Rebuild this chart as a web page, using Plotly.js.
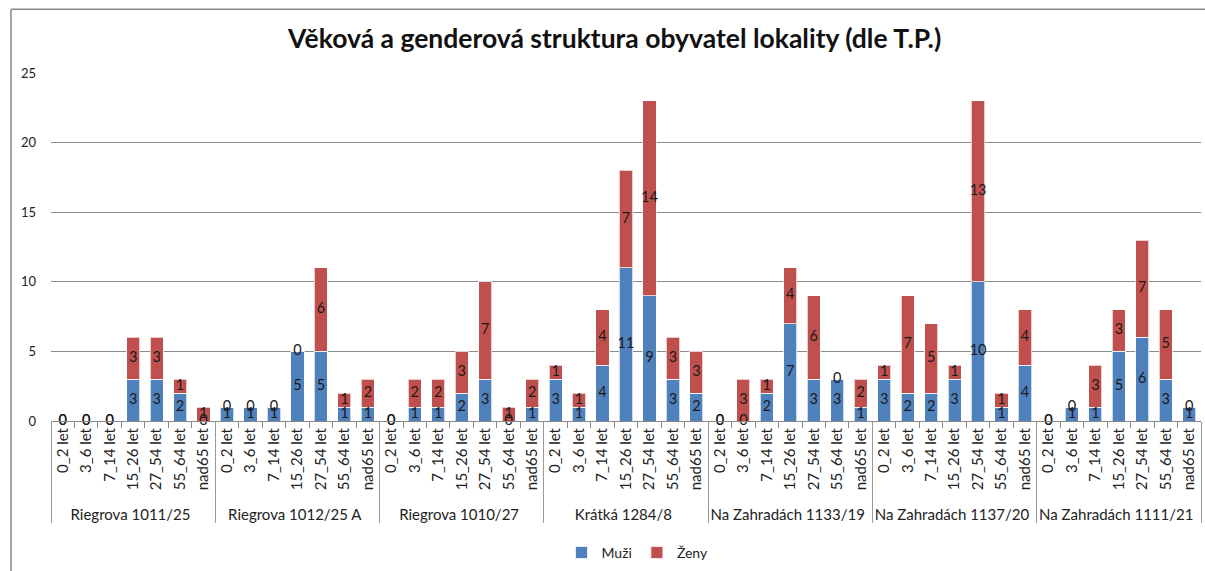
<!DOCTYPE html>
<html>
<head>
<meta charset="utf-8">
<script src="https://cdn.plot.ly/plotly-3.0.1.min.js"></script>
<style>html,body{margin:0;padding:0;background:#fff;}#chart{width:1205px;height:571px;}</style>
</head>
<body>
<div id="chart"></div>
<script>
const groups = ["Riegrova 1011/25","Riegrova 1012/25 A","Riegrova 1010/27","Krátká 1284/8","Na Zahradách 1133/19","Na Zahradách 1137/20","Na Zahradách 1111/21"];
const ages = ["0_2 let","3_6 let","7_14 let","15_26 let","27_54 let","55_64 let","nad65 let"];
const muzi = [
  [0,0,0,3,3,2,0],
  [1,1,1,5,5,1,1],
  [0,1,1,2,3,0,1],
  [3,1,4,11,9,3,2],
  [0,0,2,7,3,3,1],
  [3,2,2,3,10,1,4],
  [0,1,1,5,6,3,1]
];
const zeny = [
  [0,0,0,3,3,1,1],
  [0,0,0,0,6,1,2],
  [0,2,2,3,7,1,2],
  [1,1,4,7,14,3,3],
  [0,3,1,4,6,0,2],
  [1,7,5,1,13,1,4],
  [0,0,3,3,7,5,0]
];
const yTicks = [0,5,10,15,20,25];

const xOuter = [], xInner = [], m = [], z = [];
groups.forEach((g,i)=>ages.forEach((a,j)=>{xOuter.push(g);xInner.push(a);m.push(muzi[i][j]);z.push(zeny[i][j]);}));
const X = [xOuter, xInner];
const blue = "#4F81BD", red = "#C0504D";
const lblFont = {family:"Lato, 'Open Sans', sans-serif", size:14.5, color:"#1a1a1a"};

const data = [
  {type:"bar", name:"Muži", x:X, y:m, marker:{color:blue, line:{color:"rgba(255,255,255,0.7)", width:1}}, hoverinfo:"y"},
  {type:"bar", name:"Ženy", x:X, y:z, marker:{color:red, line:{color:"rgba(255,255,255,0.7)", width:1}}, hoverinfo:"y"},
  {type:"scatter", mode:"text", x:X, y:m.map(v=>v/2), text:m.map(String), textfont:lblFont, showlegend:false, hoverinfo:"skip", cliponaxis:false},
  {type:"scatter", mode:"text", x:X, y:m.map((v,i)=>v+z[i]/2), text:z.map(String), textfont:lblFont, showlegend:false, hoverinfo:"skip", cliponaxis:false}
];

const pl = 51, pr = 1201, pt = 73, pb = 422;
const W = 1205, H = 571;
const nCat = groups.length * ages.length;
const layout = {
  width: W, height: H,
  margin: {l: pl, r: W-pr, t: pt, b: H-pb, pad:0},
  paper_bgcolor:"#fff", plot_bgcolor:"#fff",
  barmode:"stack", bargap:0.44,
  font:{family:"Lato, 'Open Sans', sans-serif", size:12, color:"#222"},
  title:{text:"<b>Věková a genderová struktura obyvatel lokality (dle T.P.)</b>", x:0.51, xanchor:"center", y:0.932, yanchor:"middle", font:{family:"Lato, sans-serif", size:26.5, color:"#111"}},
  xaxis:{type:"multicategory", range:[-0.5, nCat-0.5], autorange:false, tickangle:-90, tickfont:{size:15, color:"#222"}, showline:true, linecolor:"#888", linewidth:1, ticks:"outside", ticklen:6, tickcolor:"#888", showdividers:true, dividercolor:"#999", dividerwidth:1, showgrid:false, mirror:false, fixedrange:true},
  yaxis:{range:[0,25], tickvals:yTicks, ticktext:yTicks.map(String), showgrid:true, gridcolor:"#8c8c8c", gridwidth:1, zeroline:false, showline:false, ticks:"", tickfont:{size:13, color:"#222"}, ticklabelstandoff:14, fixedrange:true},
  legend:{orientation:"h", traceorder:"normal", x:0.51, xanchor:"center", y:-0.375, yanchor:"middle", font:{size:14, color:"#222"}, itemwidth:30},
  showlegend:true,
  shapes:[
    {type:"line", xref:"paper", yref:"paper", x0:(11-pl)/(pr-pl), x1:(11-pl)/(pr-pl), y0:(pb-9)/(pb-pt), y1:(pb-575)/(pb-pt), line:{color:"#8a8a8a", width:1.5}},
    {type:"line", xref:"paper", yref:"paper", x0:(11-pl)/(pr-pl), x1:(1210-pl)/(pr-pl), y0:(pb-9)/(pb-pt), y1:(pb-9)/(pb-pt), line:{color:"#8a8a8a", width:1.5}}
  ]
};
Plotly.newPlot("chart", data, layout, {displayModeBar:false, staticPlot:true});
</script>
</body>
</html>
